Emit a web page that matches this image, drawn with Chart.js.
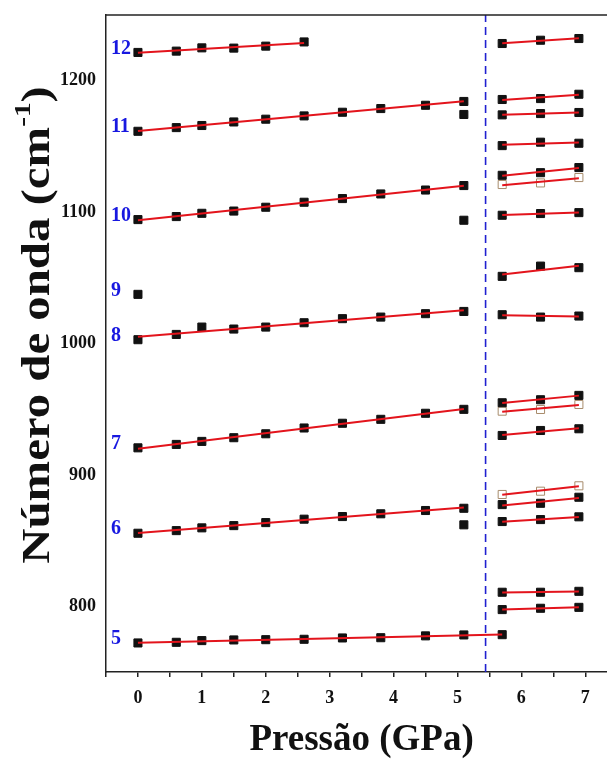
<!DOCTYPE html>
<html>
<head>
<meta charset="utf-8">
<script src="https://cdn.jsdelivr.net/npm/chart.js@4.4.0/dist/chart.umd.min.js"></script>
<style>
    html, body { margin: 0; padding: 0; background: #fff; }
</style>
</head>
<body>
<canvas id="ramanChart" width="607" height="761"></canvas>
<script>

// pressures (GPa) of the two phases
const pressureLow = [0, 0.6, 1.0, 1.5, 2.0, 2.6, 3.2, 3.8, 4.5, 5.1];
const pressureHigh = [5.7, 6.3, 6.9];
const phaseBoundary = 5.44;

// low-pressure bands (cm-1), numbered as in the labels
const band5 = [772.1, 772.6, 773.9, 774.4, 774.6, 774.9, 775.9, 776.1, 777.5, 778.2, 778.4];
const band6 = [855.6, 857.6, 859.7, 861.4, 863.7, 866.3, 868.3, 870.4, 872.9, 874.6];
const band7 = [920.6, 923.2, 925.5, 928.3, 931.3, 935.7, 939.3, 942.3, 946.9, 949.9];
const band8 = [1002.9, 1006.9, 1012.5, 1011.0, 1012.5, 1015.8, 1018.9, 1020.1, 1022.7, 1024.4];
const band9 = [1037.4];
const band10 = [1094.3, 1096.6, 1099.1, 1100.8, 1103.7, 1107.5, 1110.3, 1113.8, 1116.8, 1120.2];
const band11 = [1161.5, 1164.3, 1165.9, 1168.6, 1170.7, 1173.2, 1176.0, 1178.8, 1181.3, 1184.2];
const band12 = [1221.5, 1222.5, 1225.0, 1224.8, 1226.3, 1229.5];

const bandNames = ["5", "6", "7", "8", "9", "10", "11", "12"];
const bandsLow = [band5, band6, band7, band8, band9, band10, band11, band12];

// extra peaks at 5.1 GPa, not fitted
const splitAt51 = [862.0, 1093.8, 1174.3];

// high-pressure phase, filled symbols
const highFilled = [
    [797.5, 798.5, 799.2],
    [810.7, 810.7, 811.4],
    [864.5, 866.0, 868.1],
    [877.4, 878.4, 883.0],
    [930.0, 933.8, 935.1],
    [954.9, 957.2, 960.5],
    [1021.9, 1020.1, 1020.9],
    [1051.1, 1058.9, 1057.7],
    [1097.6, 1098.9, 1099.6],
    [1128.0, 1130.0, 1133.9],
    [1150.6, 1153.2, 1152.4],
    [1174.0, 1175.0, 1175.8],
    [1185.7, 1186.4, 1189.7],
    [1228.3, 1230.8, 1232.1]
];

// high-pressure phase, open symbols
const highOpen = [
    [885.1, 887.6, 891.7],
    [948.5, 949.8, 953.6],
    [1121.0, 1122.2, 1126.3]
];

const xRange = [-0.5, 7.34];
const yRange = [750, 1250];
const yTickValues = [800, 900, 1000, 1100, 1200];

const serif = "'Liberation Serif', 'Times New Roman', serif";
const fitRed = "#e3141c";
const labelBlue = "#1818e0";

function toPoints(xs, ys) {
    return ys.map((y, i) => ({ x: xs[i], y }));
}

// least squares straight line, drawn between first and last pressure
function linearFit(xs, ys) {
    const n = ys.length;
    let sx = 0, sy = 0, sxx = 0, sxy = 0;
    for (let i = 0; i < n; i++) {
        sx += xs[i]; sy += ys[i];
        sxx += xs[i] * xs[i]; sxy += xs[i] * ys[i];
    }
    const b = (n * sxy - sx * sy) / (n * sxx - sx * sx);
    const a = (sy - b * sx) / n;
    const x0 = xs[0], x1 = xs[n - 1];
    return [{ x: x0, y: a + b * x0 }, { x: x1, y: a + b * x1 }];
}

function markerSet(points, open) {
    return {
        type: "scatter",
        data: points,
        pointStyle: "rect",
        pointRadius: 5.7,
        pointBorderWidth: 1,
        pointBackgroundColor: open ? "#ffffff" : "#111111",
        pointBorderColor: open ? "#a88c6c" : "#111111",
        order: open ? 3 : 2
    };
}

function fitSet(points) {
    return {
        type: "line",
        data: points,
        borderColor: fitRed,
        borderWidth: 2,
        pointRadius: 0,
        fill: false,
        order: 0
    };
}

const datasets = [];

bandsLow.forEach(values => {
    const xs = values === band5 ? pressureLow.concat(pressureHigh[0]) : pressureLow;
    datasets.push(markerSet(toPoints(xs, values), false));
    if (values.length > 1) {
        datasets.push(fitSet(linearFit(xs.slice(0, values.length), values)));
    }
});

datasets.push(markerSet(splitAt51.map(y => ({ x: pressureLow[pressureLow.length - 1], y })), false));

highOpen.forEach(values => {
    datasets.push(markerSet(toPoints(pressureHigh, values), true));
    datasets.push(fitSet(linearFit(pressureHigh, values)));
});

highFilled.forEach(values => {
    datasets.push(markerSet(toPoints(pressureHigh, values), false));
    datasets.push(fitSet(linearFit(pressureHigh, values)));
});

// dashed phase boundary
datasets.push({
    type: "line",
    data: [{ x: phaseBoundary, y: yRange[0] }, { x: phaseBoundary, y: yRange[1] }],
    borderColor: "#2020d0",
    borderWidth: 1.6,
    borderDash: [8, 5],
    pointRadius: 0,
    order: 4
});

const decorations = {
    id: "decorations",
    afterDraw(chart) {
        const ctx = chart.ctx;
        const area = chart.chartArea;
        const xs = chart.scales.x;
        const ys = chart.scales.y;

        ctx.save();

        // top frame line
        ctx.strokeStyle = "#222";
        ctx.lineWidth = 1.5;
        ctx.beginPath();
        ctx.moveTo(area.left, area.top);
        ctx.lineTo(area.right, area.top);
        ctx.stroke();

        // band numbers next to the first point
        ctx.fillStyle = labelBlue;
        ctx.font = "bold 20px " + serif;
        ctx.textAlign = "left";
        ctx.textBaseline = "middle";
        bandsLow.forEach((values, i) => {
            ctx.fillText(
                bandNames[i],
                xs.getPixelForValue(0) - 27,
                ys.getPixelForValue(values[0]) - 4
            );
        });

        // x title
        ctx.fillStyle = "#111";
        ctx.textAlign = "center";
        ctx.font = "bold 37px " + serif;
        ctx.fillText("Pressão (GPa)", xs.getPixelForValue(3.5), 740);

        // y title with superscript, slightly stretched along the text
        const main = "Número de onda (cm";
        const sup = "-1";
        const close = ")";
        ctx.translate(39, 325);
        ctx.rotate(-Math.PI / 2);
        ctx.scale(1.22, 1);
        ctx.textAlign = "left";
        ctx.font = "bold 40px " + serif;
        const wMain = ctx.measureText(main).width;
        const wClose = ctx.measureText(close).width;
        ctx.font = "bold 24px " + serif;
        const wSup = ctx.measureText(sup).width;
        let pos = -(wMain + wSup + wClose) / 2;
        ctx.font = "bold 40px " + serif;
        ctx.fillText(main, pos, 0);
        pos += wMain;
        ctx.font = "bold 24px " + serif;
        ctx.fillText(sup, pos, -15);
        pos += wSup;
        ctx.font = "bold 40px " + serif;
        ctx.fillText(close, pos, 0);

        ctx.restore();
    }
};

const tickFont = { family: serif, weight: "bold", size: 18 };

new Chart(document.getElementById("ramanChart"), {
    type: "scatter",
    data: { datasets },
    options: {
        responsive: false,
        animation: false,
        layout: {
            autoPadding: false,
            padding: { top: 15, right: 0, bottom: 0, left: 0 }
        },
        plugins: {
            legend: { display: false },
            tooltip: { enabled: false }
        },
        scales: {
            x: {
                type: "linear",
                min: xRange[0],
                max: xRange[1],
                afterFit(scale) {
                    scale.height = 89;
                    scale.paddingLeft = 0;
                    scale.paddingRight = 0;
                },
                border: { color: "#222", width: 1.5 },
                grid: { drawOnChartArea: false, color: "#222", lineWidth: 1.5, tickLength: 5 },
                ticks: {
                    stepSize: 0.5,
                    includeBounds: false,
                    autoSkip: false,
                    maxRotation: 0,
                    padding: 11,
                    color: "#111",
                    font: tickFont,
                    callback: v => Math.abs(v - Math.round(v)) < 1e-6 ? String(Math.round(v)) : ""
                }
            },
            y: {
                type: "linear",
                min: yRange[0],
                max: yRange[1],
                afterBuildTicks(scale) {
                    scale.ticks = yTickValues.map(value => ({ value }));
                },
                afterFit(scale) {
                    scale.width = 106;
                    scale.paddingTop = 0;
                    scale.paddingBottom = 0;
                },
                border: { color: "#222", width: 1.5 },
                grid: { drawOnChartArea: false, drawTicks: false },
                ticks: {
                    padding: 10,
                    color: "#111",
                    font: tickFont,
                    callback: v => String(v)
                }
            }
        }
    },
    plugins: [decorations]
});

</script>
</body>
</html>
